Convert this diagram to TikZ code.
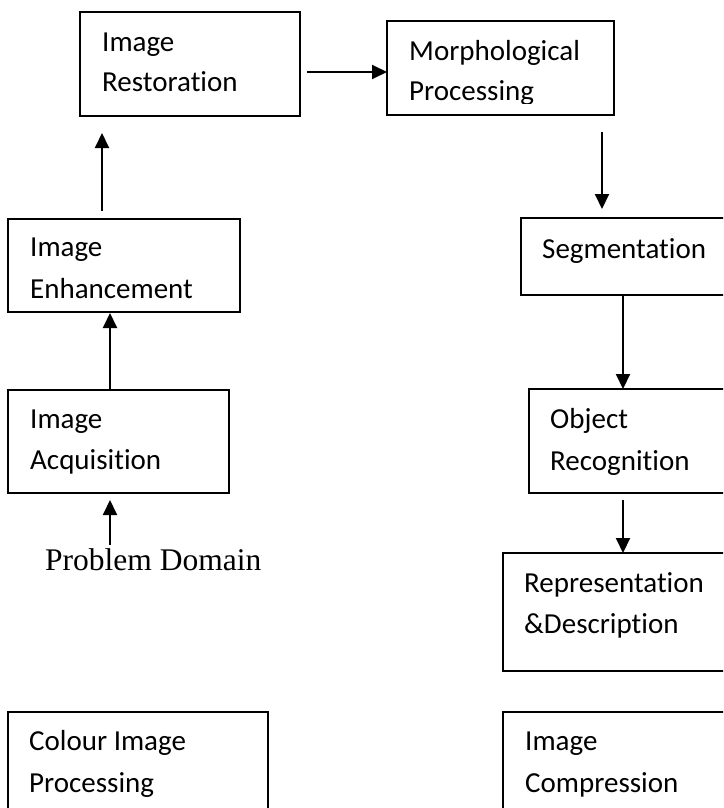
\documentclass[tikz,border=0pt]{standalone}
\usepackage{fontspec}
\setmainfont{Carlito}[Ligatures={NoCommon}]
\newfontfamily\tnr{Liberation Serif}
\usetikzlibrary{arrows.meta,calc}
\begin{document}
\begin{tikzpicture}[x=1pt,y=-1pt,
  box/.style={draw, line width=1.8pt, inner sep=0pt, outer sep=0pt, anchor=north west},
  txt/.style={anchor=base west, inner sep=0pt, font=\fontsize{29}{35}\selectfont},
  arr/.style={line width=2pt, -{Triangle[length=15pt,width=14pt]}}]
\clip (0,0) rectangle (723,808);
% boxes
\node[box, minimum width=220pt, minimum height=104pt] (rest) at (80,12) {};
\node[box, minimum width=227pt, minimum height=94pt] (morph) at (387,21) {};
\node[box, minimum width=232pt, minimum height=93pt] (enh) at (8,219) {};
\node[box, minimum width=230pt, minimum height=77pt] (seg) at (521,218) {};
\node[box, minimum width=221pt, minimum height=103pt] (acq) at (8,390) {};
\node[box, minimum width=220pt, minimum height=104pt] (obj) at (529,389) {};
\node[box, minimum width=240pt, minimum height=118pt] (rep) at (503,553) {};
\node[box, minimum width=260pt, minimum height=120pt] (col) at (8,712) {};
\node[box, minimum width=240pt, minimum height=120pt] (comp) at (503,712) {};
% texts
\node[txt] (restA) at (102,52) {Image};
\node[txt] (restB) at (102,92) {Restoration};
\node[txt] (morphA) at (409,60) {Morphological};
\begin{scope}
\clip (387,0) rectangle (614,103);
\node[txt] (morphB) at (409,100) {Processing};
\end{scope}
\node[txt] (enhA) at (30,256) {Image};
\node[txt] (enhB) at (30,298) {Enhancement};
\node[txt] (segA) at (542,258) {Segmentation};
\node[txt] (acqA) at (30,428) {Image};
\node[txt] (acqB) at (30,469) {Acquisition};
\node[txt] (objA) at (550,428) {Object};
\node[txt] (objB) at (550,470) {Recognition};
\node[txt] (repA) at (524,592) {Representation};
\node[txt] (repB) at (524,633) {\&Description};
\node[txt] (colA) at (29,750) {Colour Image};
\node[txt] (colB) at (29,792) {Processing};
\node[txt] (compA) at (525,750) {Image};
\node[txt] (compB) at (525,792) {Compression};
\node[anchor=base west, inner sep=0pt, font=\tnr\fontsize{31.5}{36}\selectfont] (prob) at (45,570) {Problem Domain};
% arrows
\draw[arr] ([shift={(7,60)}]rest.north east) -- ([shift={(0,51)}]morph.north west);
\draw[arr] ([shift={(215,17)}]morph.south west) -- ([shift={(81,-9)}]seg.north west);
\draw[arr] ([shift={(102,0)}]seg.south west) -- ([shift={(94,0)}]obj.north west);
\draw[arr] ([shift={(94,7)}]obj.south west) -- ([shift={(120,0)}]rep.north west);
\draw[arr] ([shift={(65,-25)}]prob.base west) -- ([shift={(102,7)}]acq.south west);
\draw[arr] ([shift={(102,0)}]acq.north west) -- ([shift={(102,1)}]enh.south west);
\draw[arr] ([shift={(94,-8)}]enh.north west) -- ([shift={(22,17)}]rest.south west);
\end{tikzpicture}
\end{document}
